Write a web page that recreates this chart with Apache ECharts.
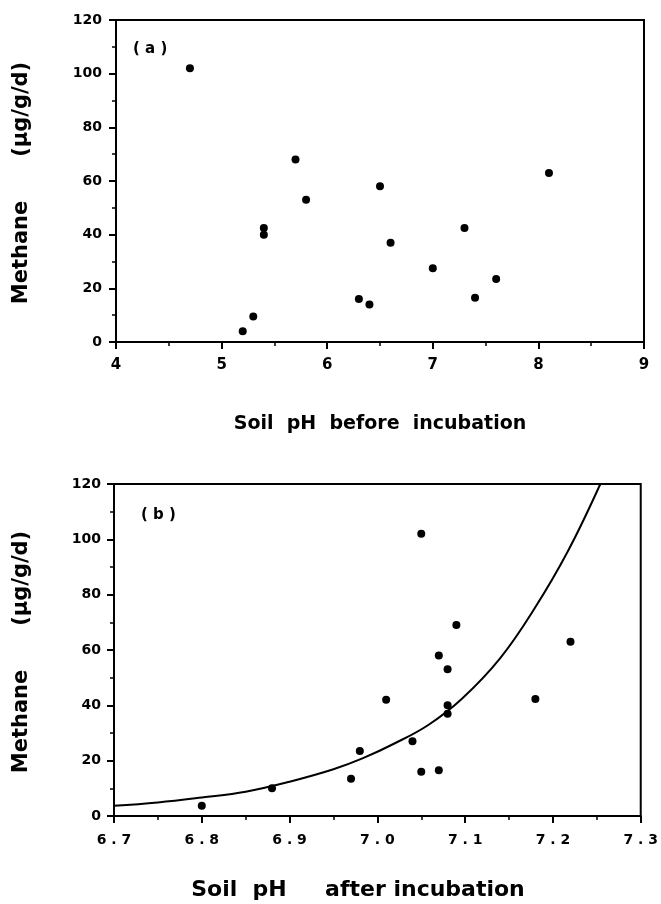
<!DOCTYPE html>
<html>
<head>
<meta charset="utf-8">
<script src="https://cdn.jsdelivr.net/npm/echarts@6/dist/echarts.min.js"></script>
<style>html,body{margin:0;padding:0;background:#fff}#c{width:661px;height:904px}</style>
</head>
<body>
<div id="c"></div>
<script>
// Panel (a): soil pH before incubation vs methane
var phBefore = [4.7, 5.7, 5.8, 5.4, 5.4, 5.3, 5.2, 6.3, 6.4, 6.5, 6.6, 7.0, 7.3, 7.4, 7.6, 8.1];
var methaneA = [102, 68, 53, 42.5, 40, 9.5, 4, 16, 14, 58, 37, 27.5, 42.5, 16.5, 23.5, 63];
// Panel (b): soil pH after incubation vs methane
var phAfter = [6.80, 6.88, 6.97, 6.98, 7.01, 7.04, 7.05, 7.07, 7.07, 7.08, 7.08, 7.08, 7.18, 7.05, 7.09, 7.22];
var methaneB = [3.7, 10, 13.5, 23.5, 42, 27, 16, 16.5, 58, 53, 40, 37, 42.3, 102, 69, 63];
// Fitted curve in panel (b)
var curveX = [6.70, 6.75, 6.80, 6.85, 6.90, 6.95, 6.983, 7.02, 7.058, 7.096, 7.14, 7.179, 7.217, 7.254];
var curveY = [3.7, 4.9, 6.7, 8.8, 12.4, 16.9, 20.8, 26.3, 32.9, 42.3, 57.1, 75.0, 95.7, 120];
// Axis tick settings
var yTicksA = {min: 0, max: 120, interval: 20};
var xTicksA = {min: 4, max: 9, interval: 1};
var yTicksB = {min: 0, max: 120, interval: 20};
var xTicksB = {min: 6.7, max: 7.3, interval: 0.1};

var FONT = '"DejaVu Sans", Arial, sans-serif';
function zip(a, b) { return a.map(function (v, i) { return [v, b[i]]; }); }

function axisCommon(extra) {
  var o = {
    type: 'value',
    axisLine: {show: true, onZero: false, lineStyle: {color: '#000', width: 2}},
    axisTick: {show: true, inside: false, length: 7, lineStyle: {color: '#000', width: 2}},
    minorTick: {show: true, splitNumber: 2, length: 4, lineStyle: {color: '#000', width: 1.5}},
    splitLine: {show: false},
    axisLabel: {color: '#000', fontFamily: FONT, fontWeight: 'bold', fontSize: 14}
  };
  for (var k in extra) o[k] = extra[k];
  return o;
}

var chart = echarts.init(document.getElementById('c'), null, {renderer: 'canvas'});
var option = {
  animation: false,
  backgroundColor: '#fff',
  grid: [
    {left: 116, top: 20, width: 528, height: 322, show: true, borderColor: '#000', borderWidth: 2, backgroundColor: 'transparent'},
    {left: 114, top: 484, width: 529, height: 332, show: true, borderColor: '#000', borderWidth: 2, backgroundColor: 'transparent'}
  ],
  xAxis: [
    axisCommon({gridIndex: 0, min: xTicksA.min, max: xTicksA.max, interval: xTicksA.interval,
      axisLabel: {color: '#000', fontFamily: FONT, fontWeight: 'bold', fontSize: 15, margin: 16}}),
    axisCommon({gridIndex: 1, min: xTicksB.min, max: xTicksB.max, interval: xTicksB.interval,
      axisLabel: {color: '#000', fontFamily: FONT, fontWeight: 'bold', fontSize: 14, margin: 17,
        formatter: function (v) { return v.toFixed(1).split('').join(' '); }}})
  ],
  yAxis: [
    axisCommon({gridIndex: 0, min: yTicksA.min, max: yTicksA.max, interval: yTicksA.interval,
      axisLabel: {color: '#000', fontFamily: FONT, fontWeight: 'bold', fontSize: 14, margin: 14}}),
    axisCommon({gridIndex: 1, min: yTicksB.min, max: yTicksB.max, interval: yTicksB.interval,
      axisLabel: {color: '#000', fontFamily: FONT, fontWeight: 'bold', fontSize: 14, margin: 13}})
  ],
  series: [
    {type: 'scatter', xAxisIndex: 0, yAxisIndex: 0, data: zip(phBefore, methaneA),
      symbol: 'circle', symbolSize: 8, itemStyle: {color: '#000', opacity: 1}},
    {type: 'scatter', xAxisIndex: 1, yAxisIndex: 1, data: zip(phAfter, methaneB),
      symbol: 'circle', symbolSize: 8, itemStyle: {color: '#000', opacity: 1}},
    {type: 'line', xAxisIndex: 1, yAxisIndex: 1, data: zip(curveX, curveY), smooth: 0.4,
      showSymbol: false, clip: true, lineStyle: {color: '#000', width: 2}}
  ],
  graphic: [
    {type: 'text', left: 133, top: 42, style: {text: '( a )', font: 'bold 15px ' + FONT, fill: '#000'}},
    {type: 'text', left: 141, top: 508, style: {text: '( b )', font: 'bold 15px ' + FONT, fill: '#000'}},
    {type: 'text', x: 380, y: 424, style: {text: 'Soil  pH  before  incubation', font: 'bold 19px ' + FONT, fill: '#000', align: 'center', verticalAlign: 'middle'}},
    {type: 'text', x: 358, y: 890, style: {text: 'Soil  pH     after incubation', font: 'bold 22px ' + FONT, fill: '#000', align: 'center', verticalAlign: 'middle'}},
    {type: 'text', x: 22, y: 183, rotation: Math.PI / 2, style: {text: 'Methane      (µg/g/d)', font: 'bold 21px ' + FONT, fill: '#000', align: 'center', verticalAlign: 'middle'}},
    {type: 'text', x: 22, y: 652, rotation: Math.PI / 2, style: {text: 'Methane      (µg/g/d)', font: 'bold 21px ' + FONT, fill: '#000', align: 'center', verticalAlign: 'middle'}}
  ]
};
chart.setOption(option);
</script>
</body>
</html>
